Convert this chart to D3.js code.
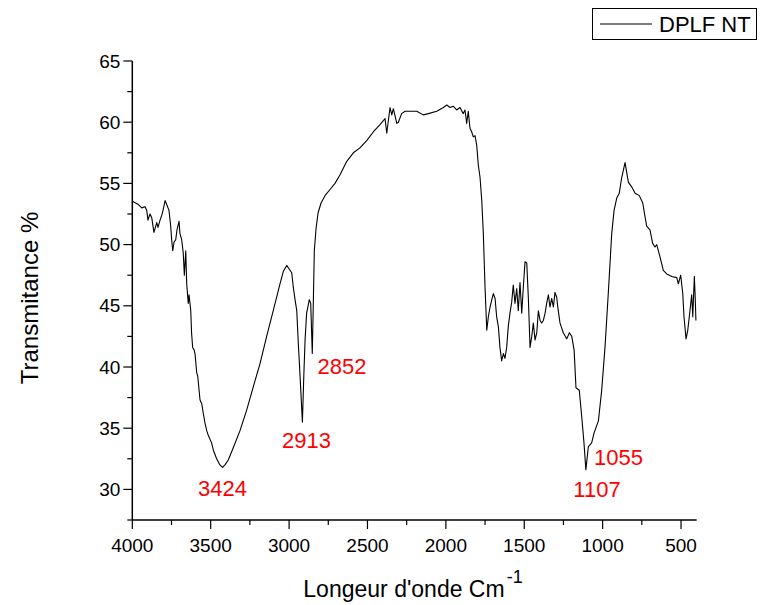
<!DOCTYPE html>
<html>
<head>
<meta charset="utf-8">
<script src="https://cdn.jsdelivr.net/npm/d3@7"></script>
<style>
  body { margin: 0; background: #fff; }
  svg { display: block; font-family: Arial, 'Liberation Sans', sans-serif; }
</style>
</head>
<body>
<svg id="chart" width="762" height="605"></svg>
<script>
// FTIR spectrum, DPLF NT

const wavenumbers = [
  4000, 3994, 3964, 3940, 3919, 3908, 3900, 3887, 3876, 3862, 3844, 3836, 3823, 3812, 3804, 3791,
  3778, 3766, 3755, 3749, 3742, 3734, 3723, 3715, 3702, 3696, 3685, 3675, 3668, 3659, 3653, 3643,
  3638, 3627, 3622, 3615, 3606, 3600, 3589, 3583, 3568, 3557, 3547, 3536, 3525, 3515, 3494, 3483,
  3462, 3441, 3424, 3409, 3388, 3356, 3313, 3270, 3228, 3185, 3143, 3101, 3058, 3037, 3015, 2994,
  2983, 2973, 2962, 2951, 2941, 2935, 2915, 2907, 2898, 2888, 2871, 2862, 2852, 2845, 2839, 2828,
  2815, 2796, 2771, 2739, 2707, 2675, 2632, 2590, 2548, 2505, 2463, 2420, 2388, 2377, 2356, 2345,
  2335, 2313, 2303, 2282, 2260, 2186, 2144, 2112, 2058, 2016, 1994, 1973, 1952, 1931, 1910, 1889,
  1878, 1867, 1857, 1846, 1835, 1825, 1814, 1803, 1793, 1782, 1771, 1761, 1750, 1739, 1729, 1718,
  1707, 1697, 1686, 1676, 1665, 1655, 1644, 1633, 1623, 1612, 1602, 1591, 1580, 1570, 1559, 1548,
  1538, 1527, 1516, 1506, 1495, 1484, 1474, 1463, 1452, 1442, 1431, 1420, 1410, 1399, 1389, 1378,
  1367, 1357, 1346, 1336, 1325, 1314, 1304, 1293, 1283, 1272, 1251, 1229, 1212, 1197, 1182, 1170,
  1149, 1133, 1119, 1107, 1091, 1070, 1055, 1027, 1006, 985, 964, 942, 927, 910, 894, 878,
  857, 836, 814, 793, 766, 744, 730, 719, 698, 681, 666, 655, 634, 613, 591, 559,
  527, 517, 502, 489, 481, 468, 457, 443, 432, 425, 415, 409, 405
]

const transmittance = [
  53.6, 53.5, 53.3, 53.0, 53.1, 52.8, 52.0, 52.5, 52.2, 51.0, 51.8, 51.4, 52.0, 52.4, 52.8, 53.6,
  53.2, 52.8, 51.5, 50.4, 49.5, 50.2, 50.4, 51.2, 51.9, 50.9, 50.4, 49.3, 47.5, 49.5, 46.8, 45.2,
  45.9, 44.6, 42.8, 41.6, 41.4, 41.1, 39.5, 39.3, 37.3, 37.0, 36.2, 35.4, 34.8, 34.4, 33.8, 33.2,
  32.5, 32.0, 31.8, 32.0, 32.4, 33.4, 34.8, 36.5, 38.4, 40.3, 42.5, 44.6, 46.8, 47.8, 48.3, 47.9,
  47.7, 46.5, 45.5, 44.6, 41.9, 40.5, 35.5, 38.9, 42.2, 44.4, 45.5, 45.2, 41.1, 45.5, 49.5, 51.3,
  52.6, 53.4, 54.0, 54.5, 55.0, 55.7, 56.8, 57.5, 57.9, 58.5, 59.2, 59.8, 60.3, 59.1, 61.2, 60.6,
  61.1, 59.9, 60.0, 60.7, 60.9, 60.9, 60.6, 60.7, 60.9, 61.2, 61.4, 61.2, 61.3, 61.0, 61.2, 60.7,
  61.0, 59.9, 60.9, 59.5, 59.2, 58.8, 58.9, 58.1, 56.5, 55.5, 53.6, 50.9, 46.5, 43.0, 44.1, 44.9,
  45.5, 46.0, 45.6, 44.1, 43.3, 41.6, 40.5, 41.1, 40.7, 41.6, 43.3, 44.4, 45.3, 46.7, 45.2, 46.4,
  44.6, 46.9, 44.4, 46.5, 48.6, 48.5, 45.7, 41.6, 42.5, 43.6, 42.2, 42.8, 44.6, 43.8, 43.6, 43.8,
  44.4, 45.2, 45.9, 44.9, 45.6, 44.9, 46.1, 45.7, 44.6, 43.6, 42.8, 42.3, 42.8, 42.5, 41.4, 38.3,
  38.1, 35.9, 33.8, 31.6, 33.5, 33.8, 34.6, 35.6, 38.1, 41.6, 46.0, 50.9, 52.8, 53.8, 54.2, 55.5,
  56.7, 55.1, 54.7, 54.2, 54.0, 53.4, 52.3, 51.5, 51.2, 50.1, 49.8, 50.0, 49.0, 47.9, 47.6, 47.4,
  47.3, 46.8, 47.5, 46.0, 44.1, 42.3, 43.0, 44.6, 45.9, 44.1, 47.4, 45.5, 43.8
]

const xTicks = [4000, 3500, 3000, 2500, 2000, 1500, 1000, 500]
const yTicks = [30, 35, 40, 45, 50, 55, 60, 65]

// peak labels, placed in data units (label centre, baseline)
const peakLabels = ['3424', '2913', '2852', '1107', '1055']
const peakLabelWn = [3425, 2889, 2662, 1036, 899]
const peakLabelT = [29.5, 33.4, 39.4, 29.4, 32.0]

const seriesName = 'DPLF NT'

const svg = d3.select('#chart')

const x = d3.scaleLinear().domain([4000, 400]).range([132.3, 696.7])
const y = d3.scaleLinear().domain([27.5, 65]).range([520, 61])

const tickFont = '19px'

// x axis
const xAxis = svg.append('g').attr('transform', 'translate(0,520)')
xAxis.append('line')
  .attr('x1', x(4000)).attr('x2', x(400))
  .attr('stroke', '#000').attr('stroke-width', 1.5)
xAxis.selectAll('.minor')
  .data(d3.range(3750, 400, -500))
  .enter().append('line')
  .attr('x1', d => x(d)).attr('x2', d => x(d))
  .attr('y1', 0).attr('y2', 5)
  .attr('stroke', '#000').attr('stroke-width', 1.2)
xAxis.selectAll('.major')
  .data(xTicks)
  .enter().append('line')
  .attr('x1', d => x(d)).attr('x2', d => x(d))
  .attr('y1', 0).attr('y2', 9)
  .attr('stroke', '#000').attr('stroke-width', 1.2)
xAxis.selectAll('text')
  .data(xTicks)
  .enter().append('text')
  .attr('x', d => x(d))
  .attr('y', 32)
  .attr('text-anchor', 'middle')
  .attr('font-size', tickFont)
  .text(d => d)

// y axis
const yAxis = svg.append('g').attr('transform', 'translate(' + x(4000) + ',0)')
yAxis.append('line')
  .attr('y1', y(27.5)).attr('y2', y(65))
  .attr('stroke', '#000').attr('stroke-width', 1.5)
yAxis.selectAll('.minor')
  .data(d3.range(27.5, 65, 5))
  .enter().append('line')
  .attr('y1', d => y(d)).attr('y2', d => y(d))
  .attr('x1', 0).attr('x2', -5)
  .attr('stroke', '#000').attr('stroke-width', 1.2)
yAxis.selectAll('.major')
  .data(yTicks)
  .enter().append('line')
  .attr('y1', d => y(d)).attr('y2', d => y(d))
  .attr('x1', 0).attr('x2', -9)
  .attr('stroke', '#000').attr('stroke-width', 1.2)
yAxis.selectAll('text')
  .data(yTicks)
  .enter().append('text')
  .attr('x', -12)
  .attr('y', d => y(d))
  .attr('dy', '0.35em')
  .attr('text-anchor', 'end')
  .attr('font-size', tickFont)
  .text(d => d)

// spectrum
const points = wavenumbers.map((w, i) => [w, transmittance[i]])
const line = d3.line().x(d => x(d[0])).y(d => y(d[1]))
svg.append('path')
  .datum(points)
  .attr('d', line)
  .attr('fill', 'none')
  .attr('stroke', '#000')
  .attr('stroke-width', 1.1)
  .attr('stroke-linejoin', 'round')

// peak annotations
svg.selectAll('.peak')
  .data(peakLabels)
  .enter().append('text')
  .attr('class', 'peak')
  .attr('x', (d, i) => x(peakLabelWn[i]))
  .attr('y', (d, i) => y(peakLabelT[i]))
  .attr('text-anchor', 'middle')
  .attr('font-size', '22px')
  .attr('fill', '#ff0000')
  .text(d => d)

// axis titles
svg.append('text')
  .attr('transform', 'translate(38,298) rotate(-90)')
  .attr('text-anchor', 'middle')
  .attr('font-size', '24px')
  .text('Transmitance %')

const xTitle = svg.append('text')
  .attr('x', 413)
  .attr('y', 597)
  .attr('text-anchor', 'middle')
  .attr('font-size', '23px')
xTitle.append('tspan').text('Longeur d\'onde Cm')
xTitle.append('tspan')
  .attr('dx', 2)
  .attr('dy', -14)
  .attr('font-size', '18px')
  .text('-1')

// legend
const legend = svg.append('g')
legend.append('rect')
  .attr('x', 592.5).attr('y', 8.5)
  .attr('width', 164).attr('height', 31)
  .attr('fill', '#fff').attr('stroke', '#000').attr('stroke-width', 1)
legend.append('line')
  .attr('x1', 600).attr('x2', 652)
  .attr('y1', 24).attr('y2', 24)
  .attr('stroke', '#000').attr('stroke-width', 1.1)
legend.append('text')
  .attr('x', 659).attr('y', 32)
  .attr('font-size', '22px')
  .text(seriesName)
</script>
</body>
</html>
